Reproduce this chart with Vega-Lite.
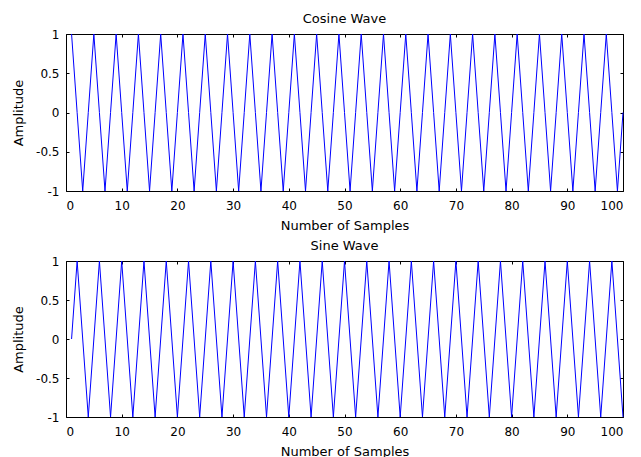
{
  "$schema": "https://vega.github.io/schema/vega-lite/v6.json",
  "padding": {"left": 12, "top": 12, "right": 5, "bottom": 0},
  "background": "white",
  "config": {
    "font": "DejaVu Sans",
    "view": {"stroke": "black", "strokeWidth": 1},
    "axis": {"grid": false, "domain": false, "tickColor": "black", "tickSize": -3, "labelColor": "black", "titleColor": "black", "labelFontSize": 12, "titleFontSize": 13, "titleFontWeight": "normal"},
    "axisX": {"labelPadding": 12, "titlePadding": 8},
    "axisY": {"labelPadding": 10, "titlePadding": 10},
    "title": {"fontSize": 13, "fontWeight": "normal", "color": "black", "offset": 2}
  },
  "data": {"values": [
    {"n":1,"c":1,"s":0},{"n":2,"c":0,"s":1},{"n":3,"c":-1,"s":0},{"n":4,"c":0,"s":-1},
    {"n":5,"c":1,"s":0},{"n":6,"c":0,"s":1},{"n":7,"c":-1,"s":0},{"n":8,"c":0,"s":-1},
    {"n":9,"c":1,"s":0},{"n":10,"c":0,"s":1},{"n":11,"c":-1,"s":0},{"n":12,"c":0,"s":-1},
    {"n":13,"c":1,"s":0},{"n":14,"c":0,"s":1},{"n":15,"c":-1,"s":0},{"n":16,"c":0,"s":-1},
    {"n":17,"c":1,"s":0},{"n":18,"c":0,"s":1},{"n":19,"c":-1,"s":0},{"n":20,"c":0,"s":-1},
    {"n":21,"c":1,"s":0},{"n":22,"c":0,"s":1},{"n":23,"c":-1,"s":0},{"n":24,"c":0,"s":-1},
    {"n":25,"c":1,"s":0},{"n":26,"c":0,"s":1},{"n":27,"c":-1,"s":0},{"n":28,"c":0,"s":-1},
    {"n":29,"c":1,"s":0},{"n":30,"c":0,"s":1},{"n":31,"c":-1,"s":0},{"n":32,"c":0,"s":-1},
    {"n":33,"c":1,"s":0},{"n":34,"c":0,"s":1},{"n":35,"c":-1,"s":0},{"n":36,"c":0,"s":-1},
    {"n":37,"c":1,"s":0},{"n":38,"c":0,"s":1},{"n":39,"c":-1,"s":0},{"n":40,"c":0,"s":-1},
    {"n":41,"c":1,"s":0},{"n":42,"c":0,"s":1},{"n":43,"c":-1,"s":0},{"n":44,"c":0,"s":-1},
    {"n":45,"c":1,"s":0},{"n":46,"c":0,"s":1},{"n":47,"c":-1,"s":0},{"n":48,"c":0,"s":-1},
    {"n":49,"c":1,"s":0},{"n":50,"c":0,"s":1},{"n":51,"c":-1,"s":0},{"n":52,"c":0,"s":-1},
    {"n":53,"c":1,"s":0},{"n":54,"c":0,"s":1},{"n":55,"c":-1,"s":0},{"n":56,"c":0,"s":-1},
    {"n":57,"c":1,"s":0},{"n":58,"c":0,"s":1},{"n":59,"c":-1,"s":0},{"n":60,"c":0,"s":-1},
    {"n":61,"c":1,"s":0},{"n":62,"c":0,"s":1},{"n":63,"c":-1,"s":0},{"n":64,"c":0,"s":-1},
    {"n":65,"c":1,"s":0},{"n":66,"c":0,"s":1},{"n":67,"c":-1,"s":0},{"n":68,"c":0,"s":-1},
    {"n":69,"c":1,"s":0},{"n":70,"c":0,"s":1},{"n":71,"c":-1,"s":0},{"n":72,"c":0,"s":-1},
    {"n":73,"c":1,"s":0},{"n":74,"c":0,"s":1},{"n":75,"c":-1,"s":0},{"n":76,"c":0,"s":-1},
    {"n":77,"c":1,"s":0},{"n":78,"c":0,"s":1},{"n":79,"c":-1,"s":0},{"n":80,"c":0,"s":-1},
    {"n":81,"c":1,"s":0},{"n":82,"c":0,"s":1},{"n":83,"c":-1,"s":0},{"n":84,"c":0,"s":-1},
    {"n":85,"c":1,"s":0},{"n":86,"c":0,"s":1},{"n":87,"c":-1,"s":0},{"n":88,"c":0,"s":-1},
    {"n":89,"c":1,"s":0},{"n":90,"c":0,"s":1},{"n":91,"c":-1,"s":0},{"n":92,"c":0,"s":-1},
    {"n":93,"c":1,"s":0},{"n":94,"c":0,"s":1},{"n":95,"c":-1,"s":0},{"n":96,"c":0,"s":-1},
    {"n":97,"c":1,"s":0},{"n":98,"c":0,"s":1},{"n":99,"c":-1,"s":0},{"n":100,"c":0,"s":-1}
  ]},
  "spacing": 6,
  "vconcat": [
    {
      "width": 557, "height": 157,
      "title": {"text": "Cosine Wave"},
      "layer": [
        {"mark": {"type": "line", "color": "#0000ff", "strokeWidth": 1},
         "encoding": {
           "x": {"field": "n", "type": "quantitative", "scale": {"domain": [0, 100], "nice": false}, "axis": {"values": [0,10,20,30,40,50,60,70,80,90,100], "title": "Number of Samples"}},
           "y": {"field": "c", "type": "quantitative", "scale": {"domain": [-1, 1], "nice": false}, "axis": {"values": [-1,-0.5,0,0.5,1], "labelExpr": "'' + datum.value", "title": "Amplitude"}}
         }},
        {"mark": {"type": "line", "opacity": 0},
         "encoding": {
           "x": {"field": "n", "type": "quantitative", "axis": {"orient": "top", "values": [0,10,20,30,40,50,60,70,80,90,100], "labels": false, "title": null}},
           "y": {"field": "c", "type": "quantitative", "axis": {"orient": "right", "values": [-1,-0.5,0,0.5,1], "labels": false, "title": null}}
         }}
      ],
      "resolve": {"axis": {"x": "independent", "y": "independent"}}
    },
    {
      "width": 557, "height": 156,
      "title": {"text": "Sine Wave"},
      "layer": [
        {"mark": {"type": "line", "color": "#0000ff", "strokeWidth": 1},
         "encoding": {
           "x": {"field": "n", "type": "quantitative", "scale": {"domain": [0, 100], "nice": false}, "axis": {"values": [0,10,20,30,40,50,60,70,80,90,100], "title": "Number of Samples"}},
           "y": {"field": "s", "type": "quantitative", "scale": {"domain": [-1, 1], "nice": false}, "axis": {"values": [-1,-0.5,0,0.5,1], "labelExpr": "'' + datum.value", "title": "Amplitude"}}
         }},
        {"mark": {"type": "line", "opacity": 0},
         "encoding": {
           "x": {"field": "n", "type": "quantitative", "axis": {"orient": "top", "values": [0,10,20,30,40,50,60,70,80,90,100], "labels": false, "title": null}},
           "y": {"field": "s", "type": "quantitative", "axis": {"orient": "right", "values": [-1,-0.5,0,0.5,1], "labels": false, "title": null}}
         }}
      ],
      "resolve": {"axis": {"x": "independent", "y": "independent"}}
    }
  ]
}
